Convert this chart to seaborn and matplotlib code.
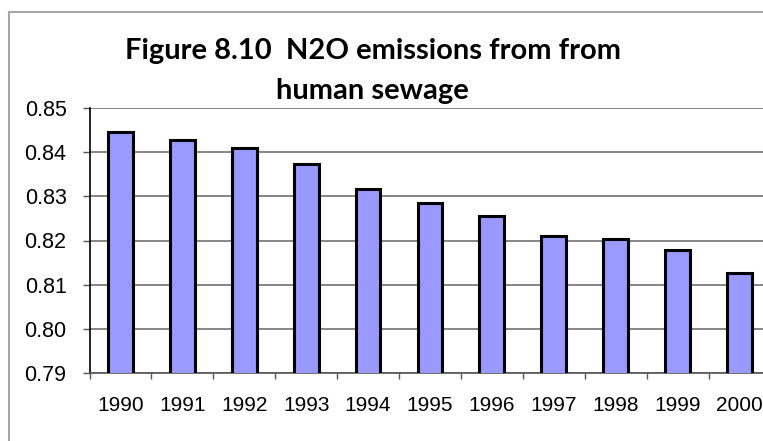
import matplotlib
matplotlib.use("Agg")
import matplotlib.pyplot as plt
import matplotlib.patches as mpatches
from matplotlib.ticker import FixedLocator, FormatStrFormatter
import seaborn as sns
import pandas as pd

# Annual N2O emissions from human sewage
years = ["1990", "1991", "1992", "1993", "1994", "1995",
         "1996", "1997", "1998", "1999", "2000"]
emissions = [0.8446, 0.8429, 0.8409, 0.8373, 0.8318, 0.8286,
             0.8256, 0.8211, 0.8204, 0.8179, 0.8127]
y_ticks = [0.79, 0.80, 0.81, 0.82, 0.83, 0.84, 0.85]
title_lines = ["Figure 8.10  N2O emissions from from", "human sewage"]

df = pd.DataFrame({"year": years, "emissions": emissions})

sns.set_theme(style="white")
plt.rcParams["font.family"] = ["Liberation Sans", "DejaVu Sans"]

W, H = 763, 441
fig = plt.figure(figsize=(W / 100, H / 100), dpi=100)

# plot area in pixel units (left, top, right, bottom)
left, top, right, bottom = 89.5, 108.3, 770.4, 372.7
ax = fig.add_axes([left / W, 1 - bottom / H, (right - left) / W, (bottom - top) / H])

sns.barplot(data=df, x="year", y="emissions", ax=ax, color="#9999ff",
            saturation=1, width=0.4, edgecolor="black", linewidth=2.2,
            zorder=3)

ax.set_xlim(-0.5, len(years) - 0.5)
ax.set_ylim(y_ticks[0], y_ticks[-1])
ax.set_yticks(y_ticks)
ax.yaxis.set_major_formatter(FormatStrFormatter("%.2f"))
ax.set_xlabel("")
ax.set_ylabel("")

ax.set_axisbelow(True)
ax.yaxis.grid(True, color="#666666", linewidth=1.1)
ax.xaxis.grid(False)

for side in ("top", "right"):
    ax.spines[side].set_visible(False)
ax.spines["left"].set_color("black")
ax.spines["left"].set_linewidth(1.2)
ax.spines["bottom"].set_color("#555555")
ax.spines["bottom"].set_linewidth(1.2)

# category boundary ticks on the x axis
ax.xaxis.set_minor_locator(FixedLocator([i - 0.5 for i in range(len(years) + 1)]))
ax.tick_params(axis="x", which="major", length=0, pad=16.5, labelsize=15,
               labelcolor="black")
ax.tick_params(axis="x", which="minor", bottom=True, length=4.5, width=1,
               color="#555555")
ax.tick_params(axis="y", which="major", left=True, length=5, width=1,
               color="#555555", pad=11.5, labelsize=15.5, labelcolor="black")

# outer chart frame
frame = mpatches.Rectangle((9 / W, -0.1), 1.2, (H - 12) / H + 0.1,
                           transform=fig.transFigure, fill=False,
                           edgecolor="#a6a6a6", linewidth=1.5, clip_on=False)
fig.patches.append(frame)

# two-line bold title
title_kw = dict(ha="center", va="baseline", fontsize=21, fontweight="bold",
                family=["Lato", "DejaVu Sans"], color="black")
fig.text(373 / W, 1 - 59.3 / H, title_lines[0], **title_kw)
fig.text(372 / W, 1 - 98.5 / H, title_lines[1], **title_kw)

fig.savefig("out.png", dpi=100)
